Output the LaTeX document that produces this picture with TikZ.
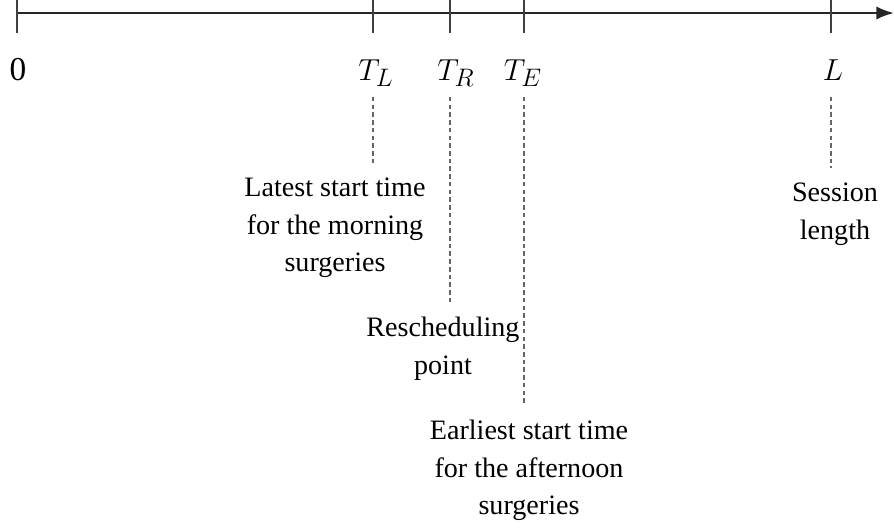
\documentclass[tikz,border=0pt]{standalone}
\usepackage{fontspec}
\setmainfont{Liberation Serif}
\usetikzlibrary{arrows.meta,positioning}

\begin{document}
\begin{tikzpicture}[
    x=0.02cm, y=-0.02cm,
    axis/.style={line width=1.3pt, draw=black!85, -{Latex[length=10pt,width=7.5pt]}},
    tick/.style={line width=0.7pt, draw=black!75},
    ticklabel/.style={anchor=base, inner sep=0pt, text depth=6pt, font=\fontsize{19}{22}\selectfont},
    guide/.style={dash pattern=on 2.6pt off 1.8pt, line width=0.9pt, draw=black!60, shorten <=3.4pt, shorten >=8.5pt},
    note/.style={anchor=north, align=center, inner sep=0pt, font=\fontsize{16}{21.3}\selectfont}
]
\useasboundingbox (0,0) rectangle (894,529);

% Time axis
\coordinate (origin) at (17,13);
\coordinate (axisend) at (894,13);
\draw[axis] (origin) -- (axisend);

% Ticks on the axis
\foreach \x/\name in {17/t0, 373/tl, 450/tr, 524/te, 831/tend} {
    \coordinate (\name) at (\x,13);
    \draw[tick] (\name) ++(0,-13) -- ++(0,33);
}

% Tick labels
\node[ticklabel] (lblt0) at (18,80) {0};
\node[ticklabel] (lbltl) at (376,80) {$T_L$};
\node[ticklabel] (lbltr) at (456,80) {$T_R$};
\node[ticklabel] (lblte) at (523,80) {$T_E$};
\node[ticklabel] (lbltend) at (833,80) {$L$};

% Explanations
\node[note] (notetl) at (335,178) {Latest start time\\for the morning\\surgeries};
\node[note] (notetr) at (443,317) {Rescheduling\\point};
\node[note] (notete) at (529,420) {Earliest start time\\for the afternoon\\surgeries};
\node[note] (notetend) at (835,183) {Session\\length};

% Dashed guides
\draw[guide] (lbltl.south -| tl) -- (notetl.north -| tl);
\draw[guide] (lbltr.south -| tr) -- (notetr.north -| tr);
\draw[guide] (lblte.south -| te) -- (notete.north -| te);
\draw[guide] (lbltend.south -| tend) -- (notetend.north -| tend);

\end{tikzpicture}
\end{document}
